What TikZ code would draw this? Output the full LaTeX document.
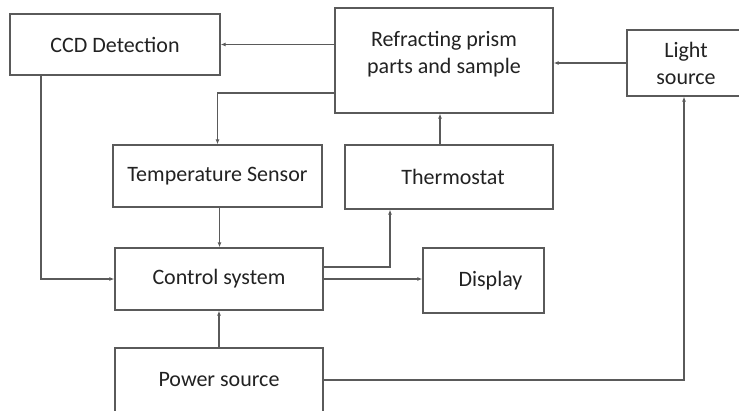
\documentclass[tikz,border=0pt]{standalone}
\usepackage{fontspec}
\setmainfont{Carlito}
\usetikzlibrary{arrows.meta}
\definecolor{linegray}{HTML}{5A5A5A}
\definecolor{txt}{HTML}{222222}
\begin{document}
\begin{tikzpicture}[x=1pt,y=-1pt,
  blk/.style={draw=linegray,line width=1.3pt,rectangle,inner sep=0pt,text=txt,
    font=\fontsize{22}{26}\selectfont,align=center},
  arr/.style={draw=linegray,line width=1.3pt,-{Latex[length=5pt,width=4pt]}},
  ln/.style={draw=linegray,line width=1.3pt}]
\useasboundingbox (0,0) rectangle (739,410);
\clip (0,0) rectangle (739,410);
\fill[white] (0,0) rectangle (739,410);
\node[blk,minimum width=210pt,minimum height=61pt] (ccd) at (115,44.5) {CCD Detection};
\node[blk,minimum width=218pt,minimum height=105pt] (prism) at (444,60.5) {};
\node[text=txt,font=\fontsize{22}{27}\selectfont,align=center] (prismtxt) at (444,54) {Refracting prism\\parts and sample};
\node[blk,minimum width=118pt,minimum height=66pt,font=\fontsize{22}{27}\selectfont] (light) at (686,63) {Light\\source};
\node[blk,minimum width=209pt,minimum height=62pt] (temp) at (217.5,176) {Temperature Sensor};
\node[blk,minimum width=208pt,minimum height=64pt] (thermo) at (449,177) {\hspace*{8pt}Thermostat};
\node[blk,minimum width=208pt,minimum height=62pt] (control) at (219,279) {Control system};
\node[blk,minimum width=121pt,minimum height=65pt] (display) at (483.5,280.5) {\hspace*{14pt}Display};
\node[blk,minimum width=208pt,minimum height=64pt] (power) at (219,380) {Power source};

\draw[arr] (prism.west |- ccd.east) -- (ccd.east);
\draw[arr] (light.west) -- (prism.east |- light.west);
\draw[arr] ([yshift=-32.5pt]prism.west) -| (temp.north);
\draw[arr] ([xshift=-9pt]thermo.north) -- ([xshift=-9pt]thermo.north |- prism.south);
\draw[arr] ([xshift=-74pt]ccd.south) |- (control.west);
\draw[arr] ([xshift=2pt]temp.south) -- ([xshift=2pt]temp.south |- control.north);
\draw[arr] ([yshift=12pt]control.east) -| ([xshift=-59pt]thermo.south);
\draw[arr] (control.east) -- (control.east -| display.west);
\draw[arr] (power.north) -- (control.south);
\draw[arr] (power.east) -| ([xshift=-2pt]light.south);
\end{tikzpicture}
\end{document}
